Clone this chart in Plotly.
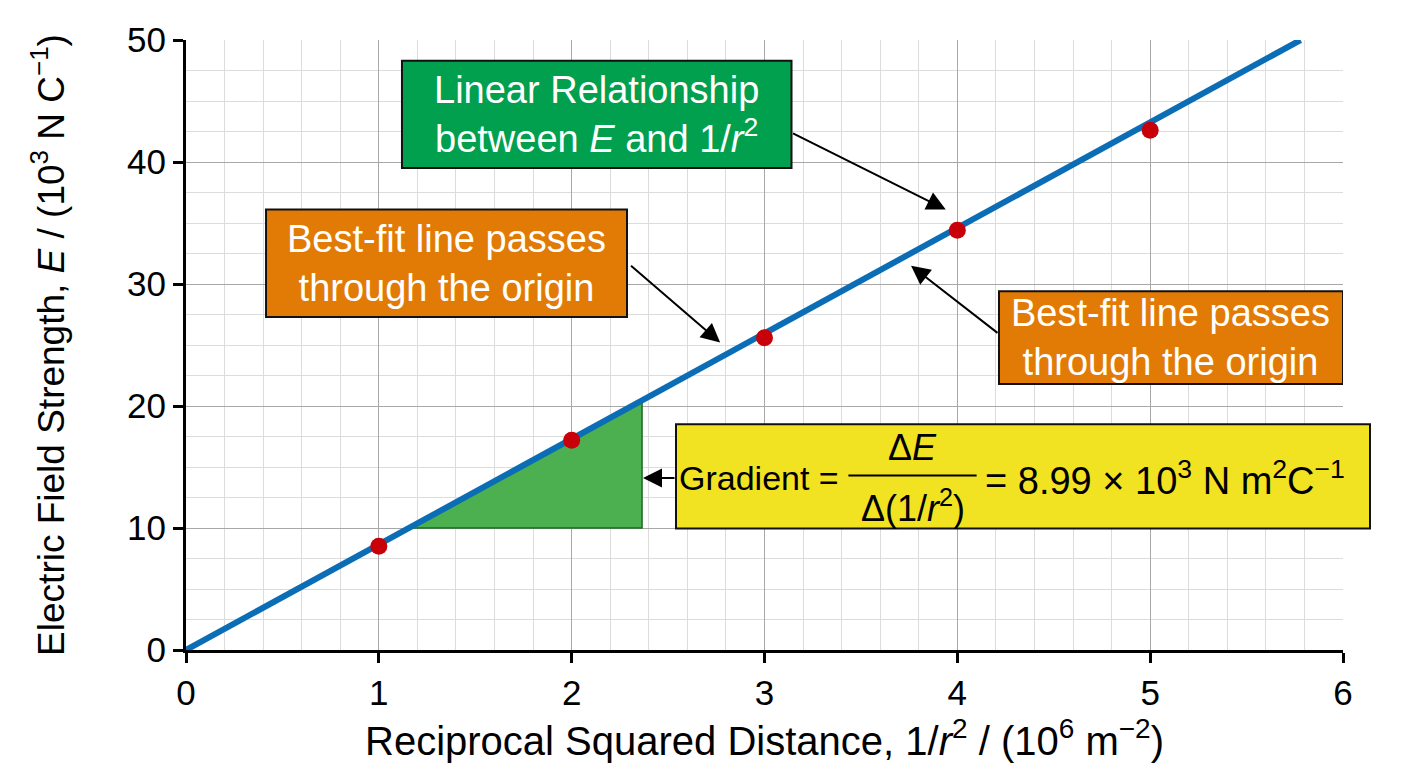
import plotly.graph_objects as go

# ---- data ----
inv_r2 = [1, 2, 3, 4, 5]                 # 1/r^2 (10^6 m^-2)
field_E = [8.5, 17.2, 25.6, 34.4, 42.6]  # E (10^3 N C^-1)
fit_x = [0, 5.78]
fit_y = [0, 50]
tri_x = [1.156, 2.365, 2.365, 1.156]
tri_y = [10, 10, 20.45, 10]
x_ticks = [0, 1, 2, 3, 4, 5, 6]
y_ticks = [0, 10, 20, 30, 40, 50]

FONT = "Liberation Sans, Arial, sans-serif"
BLUE = "#0b6db5"
RED = "#c8000a"
GREEN_BOX = "#00a04e"
ORANGE = "#e27b06"
YELLOW = "#f2e322"
TRI = "#4caf50"
TXT = 38

fig = go.Figure()

fig.add_trace(go.Scatter(x=tri_x, y=tri_y, mode="lines", fill="toself",
                         fillcolor=TRI, line=dict(color="#1e6b22", width=1.5),
                         hoverinfo="skip", showlegend=False))
fig.add_trace(go.Scatter(x=fit_x, y=fit_y, mode="lines",
                         line=dict(color=BLUE, width=6), showlegend=False))
fig.add_trace(go.Scatter(x=inv_r2, y=field_E, mode="markers",
                         marker=dict(color=RED, size=17), showlegend=False))

def box(x0, x1, y0, y1, color):
    fig.add_shape(type="rect", xref="x", yref="y", x0=x0, x1=x1, y0=y0, y1=y1,
                  fillcolor=color, line=dict(color="#111111", width=2), layer="above")

def arrow(tx, ty, hx, hy):
    fig.add_annotation(x=hx, y=hy, ax=tx, ay=ty, xref="x", yref="y",
                       axref="x", ayref="y", showarrow=True, arrowhead=2,
                       arrowsize=1.9, arrowwidth=2, arrowcolor="black", text="")

def label(x, y, text, color="white", size=TXT, xanchor="center"):
    fig.add_annotation(x=x, y=y, xref="x", yref="y", text=text, showarrow=False,
                       font=dict(family=FONT, size=size, color=color),
                       xanchor=xanchor, yanchor="middle", align="center")

# green box
box(1.12, 3.14, 39.5, 48.3, GREEN_BOX)
label(2.13, 43.9, "Linear Relationship<br>between <i>E</i> and 1/<i>r</i><sup>2</sup>")
arrow(3.14, 42.4, 3.94, 36.1)

# orange left
box(0.415, 2.287, 27.3, 36.1, ORANGE)
label(1.35, 31.7, "Best-fit line passes<br>through the origin")
arrow(2.30, 31.6, 2.77, 25.2)

# orange right
box(4.216, 6.0, 21.8, 29.4, ORANGE)
label(5.108, 25.6, "Best-fit line passes<br>through the origin")
arrow(4.216, 25.9, 3.76, 31.5)

# yellow gradient box
fig.add_shape(type="rect", xref="paper", yref="y", x0=(676-186)/1157, x1=(1370-186)/1157,
              y0=9.95, y1=18.5, fillcolor=YELLOW, line=dict(color="#111111", width=2),
              layer="above")
arrow(2.541, 14.1, 2.37, 14.1)
label(3.395, 14.1, "Gradient =", color="black", size=34, xanchor="right")
label(3.77, 16.6, "Δ<i>E</i>", color="black", size=36)
fig.add_shape(type="line", xref="x", yref="y", x0=3.435, x1=4.10, y0=14.3, y1=14.3,
              line=dict(color="black", width=2), layer="above")
label(3.77, 11.8, "Δ(1/<i>r</i><sup>2</sup>)", color="black", size=36)
label(4.135, 14.1, "= 8.99 × 10<sup>3</sup> N m<sup>2</sup>C<sup>−1</sup>", color="black",
      size=38, xanchor="left")

fig.update_layout(
    width=1400, height=760,
    margin=dict(l=178, r=65, t=29, b=118),
    paper_bgcolor="white", plot_bgcolor="white",
    font=dict(family=FONT, size=35, color="black"),
    xaxis=dict(range=[0, 6], tickvals=x_ticks, showgrid=True, gridcolor="#a8a8a8",
               gridwidth=1.2, zeroline=False, showline=True, linecolor="black",
               linewidth=3, ticks="outside", ticklen=10, tickwidth=2.5,
               tickcolor="black", tickfont=dict(size=35),
               minor=dict(dtick=0.2, showgrid=True, gridcolor="#dcdcdc", gridwidth=1),
               title=dict(text="Reciprocal Squared Distance, 1/<i>r</i><sup>2</sup> / (10<sup>6</sup> m<sup>−2</sup>)",
                          font=dict(size=40), standoff=16)),
    yaxis=dict(range=[0, 50], tickvals=y_ticks, showgrid=True, gridcolor="#a8a8a8",
               gridwidth=1.2, zeroline=False, showline=True, linecolor="black",
               linewidth=3, ticks="outside", ticklen=10, tickwidth=2.5,
               tickcolor="black", tickfont=dict(size=35),
               minor=dict(dtick=2.5, showgrid=True, gridcolor="#dcdcdc", gridwidth=1),
               title=dict(text="Electric Field Strength, <i>E</i> / (10<sup>3</sup> N C<sup>−1</sup>)",
                          font=dict(size=37), standoff=52)),
)

fig.write_html("out.html")
